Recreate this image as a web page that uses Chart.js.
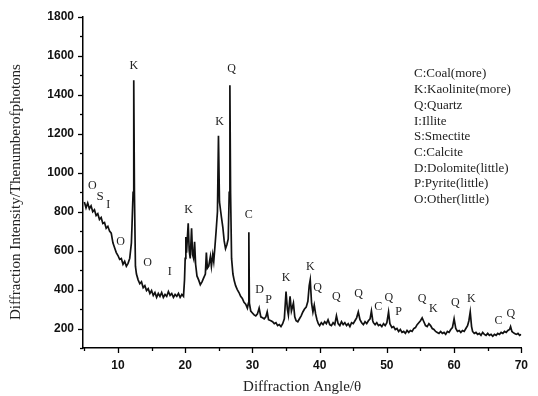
<!DOCTYPE html>
<html>
<head>
<meta charset="utf-8">
<script src="https://cdn.jsdelivr.net/npm/chart.js@4/dist/chart.umd.min.js"></script>
<style>
  html, body { margin: 0; padding: 0; background: #fff; }
  #wrap { width: 538px; height: 396px; position: relative; }
</style>
</head>
<body>
<div id="wrap"><canvas id="chart"></canvas></div>
<script>
// diffraction angle (2θ) and intensity
const angles = [
  5.0, 5.25, 5.5, 5.75, 6.0, 6.25, 6.5, 6.75, 7.0, 7.25, 7.5, 7.75, 8.0, 8.25, 8.5, 8.75, 9.0, 9.25, 9.5, 9.75,
  10.0, 10.25, 10.5, 10.75, 11.0, 11.25, 11.5, 11.75, 12.0, 12.1, 12.25, 12.35, 12.45, 12.6, 12.75, 13.0, 13.25, 13.5, 13.75, 14.0,
  14.25, 14.5, 14.75, 15.0, 15.25, 15.5, 15.75, 16.0, 16.25, 16.5, 16.75, 17.0, 17.25, 17.5, 17.75, 18.0, 18.25, 18.5, 18.75, 19.0,
  19.25, 19.5, 19.75, 19.9, 20.0, 20.1, 20.2, 20.3, 20.45, 20.6, 20.75, 20.95, 21.1, 21.25, 21.4, 21.55, 21.75, 22.0, 22.25, 22.5,
  22.75, 23.0, 23.15, 23.3, 23.5, 23.75, 23.9, 24.1, 24.25, 24.4, 24.6, 24.8, 24.95, 25.1, 25.25, 25.4, 25.6, 25.8, 26.0, 26.2,
  26.4, 26.55, 26.65, 26.75, 26.9, 27.1, 27.3, 27.5, 27.75, 28.0, 28.25, 28.5, 28.75, 29.0, 29.25, 29.4, 29.47, 29.55, 29.75, 30.0,
  30.25, 30.5, 30.75, 31.0, 31.25, 31.5, 31.75, 32.0, 32.2, 32.4, 32.75, 33.0, 33.25, 33.5, 33.75, 34.0, 34.25, 34.5, 34.75, 35.0,
  35.2, 35.35, 35.6, 35.8, 36.1, 36.3, 36.5, 36.75, 37.0, 37.25, 37.5, 37.75, 38.0, 38.25, 38.45, 38.6, 38.8, 39.0, 39.2, 39.4,
  39.6, 39.8, 40.0, 40.25, 40.5, 40.75, 41.0, 41.25, 41.5, 41.75, 42.0, 42.25, 42.5, 42.75, 43.0, 43.25, 43.5, 43.75, 44.0, 44.25,
  44.5, 44.75, 45.0, 45.25, 45.5, 45.75, 46.0, 46.25, 46.5, 46.75, 47.0, 47.25, 47.5, 47.7, 47.9, 48.0, 48.25, 48.5, 48.75, 49.0,
  49.25, 49.5, 49.75, 50.0, 50.25, 50.45, 50.75, 51.0, 51.25, 51.5, 51.75, 52.0, 52.25, 52.5, 52.75, 53.0, 53.25, 53.5, 53.75, 54.0,
  54.25, 54.5, 54.75, 55.0, 55.25, 55.5, 55.75, 56.0, 56.25, 56.5, 56.75, 57.0, 57.25, 57.5, 57.75, 58.0, 58.25, 58.5, 58.75, 59.0,
  59.25, 59.5, 59.75, 60.0, 60.25, 60.5, 60.75, 61.0, 61.25, 61.5, 61.75, 62.0, 62.2, 62.4, 62.6, 62.75, 63.0, 63.25, 63.5, 63.75,
  64.0, 64.25, 64.5, 64.75, 65.0, 65.25, 65.5, 65.75, 66.0, 66.25, 66.5, 66.75, 67.0, 67.25, 67.5, 67.75, 68.0, 68.25, 68.4, 68.6,
  68.75, 69.0, 69.25, 69.5, 69.75, 70.0
]
const intensity = [
  850, 820, 845, 815, 830, 800, 810, 780, 790, 760, 770, 740, 745, 715, 725, 700, 690, 640, 615, 590,
  575, 555, 560, 530, 545, 520, 535, 560, 640, 740, 900, 1475, 900, 520, 480, 450, 430, 440, 410, 420,
  395, 405, 380, 395, 370, 385, 360, 380, 365, 385, 360, 375, 365, 390, 370, 380, 360, 375, 365, 380,
  360, 375, 365, 450, 560, 670, 590, 650, 740, 600, 560, 715, 580, 560, 645, 530, 470, 450, 425, 440,
  460, 480, 590, 510, 520, 570, 520, 580, 545, 610, 700, 800, 1190, 850, 810, 770, 720, 650, 610, 630,
  660, 900, 1450, 900, 560, 480, 445, 420, 400, 385, 365, 355, 335, 325, 305, 330, 695, 330, 290, 280,
  270, 265, 275, 305, 260, 255, 250, 260, 285, 245, 240, 235, 225, 230, 215, 220, 210, 225, 250, 390,
  300, 270, 365, 290, 330, 260, 240, 235, 250, 265, 285, 300, 310, 340, 420, 450, 330, 285, 320, 275,
  245, 225, 215, 230, 220, 235, 225, 245, 220, 215, 230, 220, 265, 225, 215, 235, 220, 230, 215, 225,
  210, 230, 225, 240, 255, 285, 245, 230, 220, 235, 225, 240, 250, 290, 240, 230, 220, 230, 215, 220,
  210, 225, 215, 230, 285, 225, 205, 210, 195, 200, 185, 195, 180, 185, 175, 190, 180, 190, 185, 200,
  205, 220, 230, 240, 255, 235, 215, 210, 225, 215, 200, 195, 185, 180, 175, 185, 175, 180, 170, 185,
  180, 195, 205, 250, 200, 185, 190, 180, 190, 185, 200, 215, 240, 285, 210, 185, 175, 180, 170, 175,
  165, 180, 170, 165, 175, 165, 170, 160, 170, 165, 175, 170, 180, 175, 185, 180, 190, 195, 210, 185,
  180, 175, 170, 175, 165, 170
]

// phase letters over the peaks: text, angle, intensity where the letter sits
const peakText = ['O', 'S', 'I', 'O', 'K', 'O', 'I', 'K', 'K', 'Q', 'C', 'D', 'P', 'K', 'K', 'Q', 'Q', 'Q', 'C', 'Q', 'P', 'Q', 'K', 'Q', 'K', 'C', 'Q']
const peakAngle = [6.2, 7.35, 8.55, 10.4, 12.35, 14.4, 17.7, 20.5, 25.1, 26.9, 29.46, 31.07, 32.4, 35.0, 38.6, 39.7, 42.5, 45.8, 48.7, 50.3, 51.75, 55.25, 56.9, 60.2, 62.55, 66.6, 68.45]
const peakLevel = [932, 876, 835, 647, 1548, 536, 493, 810, 1262, 1536, 784, 399, 348, 459, 518, 408, 361, 378, 310, 356, 288, 351, 300, 334, 351, 241, 276]

const legendLines = [
  'C:Coal(more)',
  'K:Kaolinite(more)',
  'Q:Quartz',
  'I:Illite',
  'S:Smectite',
  'C:Calcite',
  'D:Dolomite(little)',
  'P:Pyrite(little)',
  'O:Other(little)'
]

const xTicks = [5, 10, 15, 20, 25, 30, 35, 40, 45, 50, 55, 60, 65, 70]
const yTitle = 'Diffraction Intensity/Thenumberofphotons'

const serif = '"Liberation Serif", "Times New Roman", serif'
const sans = '"Liberation Sans", Arial, sans-serif'

const points = angles.map((a, i) => ({ x: a, y: intensity[i] }))

// short outward ticks, longer at labelled values
const tickMarks = {
  id: 'tickMarks',
  afterDraw (chart) {
    const ctx = chart.ctx
    const xs = chart.scales.x
    const ys = chart.scales.y
    ctx.save()
    ctx.strokeStyle = '#000'
    ctx.lineWidth = 1.3
    xs.ticks.forEach(t => {
      const px = Math.round(xs.getPixelForValue(t.value)) + 0.5
      const len = t.value % 10 === 0 ? 5 : 3
      ctx.beginPath()
      ctx.moveTo(px, ys.bottom)
      ctx.lineTo(px, ys.bottom + len)
      ctx.stroke()
    })
    ys.ticks.forEach(t => {
      const py = Math.round(ys.getPixelForValue(t.value)) + 0.5
      const len = t.value % 200 === 0 ? 5 : 3
      ctx.beginPath()
      ctx.moveTo(xs.left, py)
      ctx.lineTo(xs.left - len, py)
      ctx.stroke()
    })
    // y title sits a little below the plot centre in the original
    ctx.fillStyle = '#222'
    ctx.font = '15px ' + serif
    ctx.textAlign = 'center'
    ctx.textBaseline = 'middle'
    ctx.translate(16, 192)
    ctx.rotate(-Math.PI / 2)
    ctx.fillText(yTitle, 0, 0)
    ctx.restore()
  }
}

const peakLabels = {
  id: 'peakLabels',
  afterDatasetsDraw (chart) {
    const ctx = chart.ctx
    const xs = chart.scales.x
    const ys = chart.scales.y
    ctx.save()
    ctx.fillStyle = '#222'
    ctx.textAlign = 'center'
    ctx.textBaseline = 'middle'
    peakText.forEach((txt, i) => {
      ctx.font = (txt === 'S' ? '13px ' : '12px ') + serif
      ctx.fillText(txt, xs.getPixelForValue(peakAngle[i]), ys.getPixelForValue(peakLevel[i]))
    })
    ctx.font = '13px ' + serif
    ctx.textAlign = 'left'
    legendLines.forEach((line, i) => {
      ctx.fillText(line, 414, 74 + i * 15.7)
    })
    ctx.restore()
  }
}

const ctx = document.getElementById('chart').getContext('2d')
const chart = new Chart(ctx, {
  type: 'line',
  data: {
    datasets: [{
      data: points,
      borderColor: '#111',
      borderWidth: 1.7,
      pointRadius: 0,
      tension: 0,
      fill: false
    }]
  },
  options: {
    responsive: true,
    maintainAspectRatio: false,
    animation: false,
    events: [],
    layout: { padding: { top: 17, right: 8, left: 0, bottom: 0 } },
    plugins: {
      legend: { display: false },
      tooltip: { enabled: false }
    },
    scales: {
      x: {
        type: 'linear',
        min: 4.8,
        max: 70,
        afterBuildTicks: (scale) => {
          scale.ticks = xTicks.map(v => ({ value: v }))
        },
        afterFit: (scale) => { scale.height = 48 },
        grid: { display: false, drawTicks: false },
        border: { display: true, color: '#000', width: 1.5 },
        ticks: {
          padding: 10,
          color: '#111',
          font: { family: sans, size: 12, weight: 'bold' },
          maxRotation: 0,
          callback: (v) => v % 10 === 0 ? String(v) : ''
        },
        title: {
          display: true,
          text: 'Diffraction Angle/θ',
          color: '#222',
          font: { family: serif, size: 15 },
          padding: { top: 6, bottom: 0 }
        }
      },
      y: {
        min: 100,
        max: 1800,
        afterFit: (scale) => { scale.width = 83 },
        grid: { display: false, drawTicks: false },
        border: { display: true, color: '#000', width: 1.5 },
        ticks: {
          stepSize: 100,
          padding: 9,
          color: '#111',
          font: { family: sans, size: 12, weight: 'bold' },
          callback: (v) => v % 200 === 0 ? String(v) : ''
        }
      }
    }
  },
  plugins: [tickMarks, peakLabels]
})
</script>
</body>
</html>
